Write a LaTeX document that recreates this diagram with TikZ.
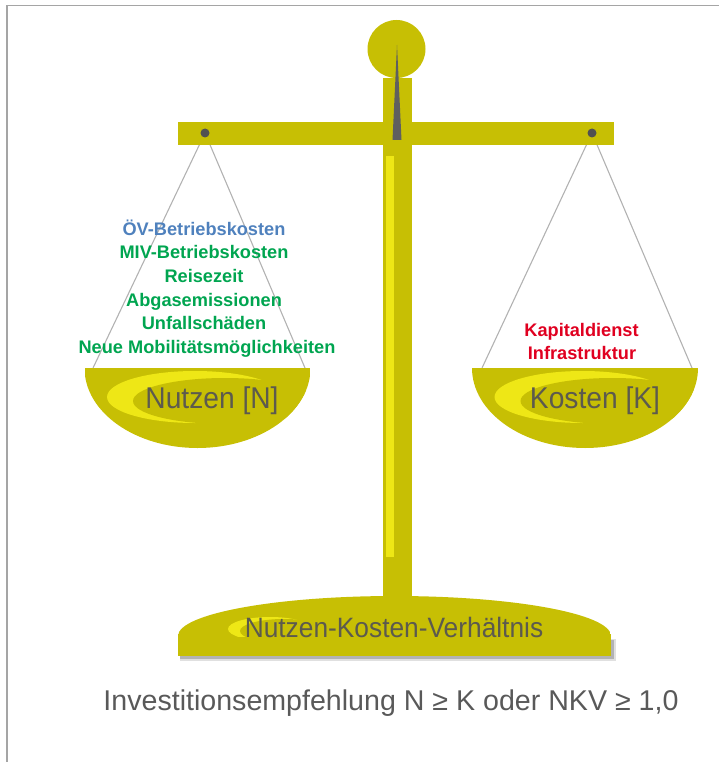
\documentclass[tikz,border=0pt]{standalone}
\usepackage{fontspec}
\setmainfont{Liberation Sans}

\definecolor{brass}{RGB}{199,191,4}
\definecolor{brasslight}{RGB}{238,231,22}
\definecolor{needle}{RGB}{95,95,95}
\definecolor{labelgray}{RGB}{92,90,78}
\definecolor{ovblue}{RGB}{79,129,189}
\definecolor{benefit}{RGB}{0,165,80}
\definecolor{cost}{RGB}{224,0,32}
\definecolor{framegray}{RGB}{165,165,165}

\begin{document}
\begin{tikzpicture}[x=1pt, y=-1pt,
  item/.style={font=\bfseries\fontsize{18.2}{22}\selectfont, inner sep=0pt, anchor=base},
  pantitle/.style={font=\fontsize{30}{34}\selectfont, text=labelgray, inner sep=0pt, anchor=base},
  cord/.style={gray!60, line width=1.1pt}]

  \useasboundingbox (0,0) rectangle (719,762);

  % Frame (top and left edge only)
  \draw[framegray, line width=1.6pt] (7,762) -- (7,5.5) -- (719,5.5);

  % Hooks and rims of the pans
  \coordinate (hookN) at (205,133);
  \coordinate (hookK) at (592,133);
  \coordinate (rimNl) at (93,368);
  \coordinate (rimNr) at (305,368);
  \coordinate (rimKl) at (482,368);
  \coordinate (rimKr) at (692,368);

  % Cords
  \draw[cord] (rimNl) -- (hookN) -- (rimNr);
  \draw[cord] (rimKl) -- (hookK) -- (rimKr);

  % Knob, column and beam
  \fill[brass] (396.5,49) circle (29);
  \fill[brass] (383,78) rectangle (412,600);
  \fill[brasslight] (386,156) rectangle (394,557);
  \fill[brass] (178,122) rectangle (614,145);
  \fill[needle] (397,45) -- (401.5,140) -- (392.5,140) -- cycle;
  \fill[needle!85!black] (hookN) circle (4.5);
  \fill[needle!85!black] (hookK) circle (4.5);

  % Pans
  \foreach \cx in {197.5, 585} {
    \begin{scope}
      \clip (\cx-113,368) rectangle (\cx+113,450);
      \clip (\cx,368) ellipse [x radius=113, y radius=80];
      \fill[brass] (\cx-113,368) rectangle (\cx+113,450);
      \fill[brasslight] (\cx-2.5,397) ellipse [x radius=88, y radius=26];
      \fill[brass] (\cx+27.5,401) ellipse [x radius=92, y radius=23];
    \end{scope}
  }

  % Foot with its shadow
  \fill[black, opacity=0.12] (180,639) rectangle (616,661);
  \fill[black, opacity=0.2] (180,640) rectangle (614,659);
  \fill[brass] (178,634) rectangle (611,656);
  \begin{scope}
    \clip (178,560) rectangle (611,636);
    \clip (394.5,636) ellipse [x radius=216.5, y radius=40];
    \fill[brass] (178,560) rectangle (611,636);
    \fill[brasslight] (270,629) ellipse [x radius=42, y radius=12];
    \fill[brass] (284,631) ellipse [x radius=44, y radius=12];
  \end{scope}

  % Benefit items
  \node[item, text=ovblue]  (ov)    at (204,235)   {ÖV-Betriebskosten};
  \node[item, text=benefit] (miv)   at (204,258.7) {MIV-Betriebskosten};
  \node[item, text=benefit] (zeit)  at (204,282.4) {Reisezeit};
  \node[item, text=benefit] (abgas) at (204,306.1) {Abgasemissionen};
  \node[item, text=benefit] (unf)   at (204,329.8) {Unfallschäden};
  \node[item, text=benefit] (mob)   at (207,353.5) {Neue Mobilitätsmöglichkeiten};

  % Cost items
  \node[item, text=cost] (kap)   at (581.5,336) {Kapitaldienst};
  \node[item, text=cost] (infra) at (582,359)   {Infrastruktur};

  % Pan and foot titles
  \node[pantitle] (nutzen) at (212,408) {\scalebox{0.94}[1]{Nutzen [N]}};
  \node[pantitle] (kosten) at (595,408) {\scalebox{0.94}[1]{Kosten [K]}};
  \node[pantitle, font=\fontsize{28}{32}\selectfont] (nkv) at (394,637)
    {\scalebox{0.94}[1]{Nutzen-Kosten-Verhältnis}};

  % Decision rule
  \node[inner sep=0pt, anchor=base, text=black!65, font=\fontsize{28.6}{32}\selectfont]
    (regel) at (391,710) {Investitionsempfehlung N ≥ K oder NKV ≥ 1,0};

\end{tikzpicture}
\end{document}
